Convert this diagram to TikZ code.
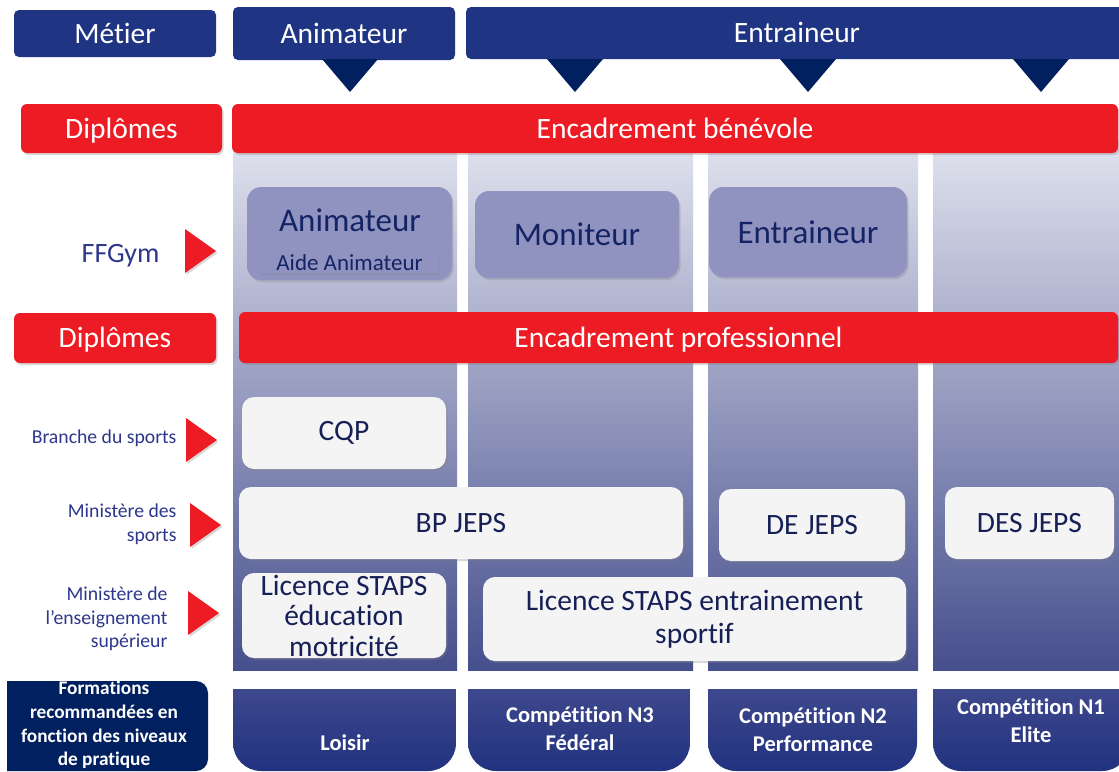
\documentclass[tikz,border=0pt]{standalone}
\usepackage{fontspec}
\setmainfont{Carlito}[Ligatures=NoCommon]
\usetikzlibrary{shadows,calc}

\definecolor{metblue}{RGB}{31,53,131}
\definecolor{tipnavy}{RGB}{0,32,96}
\definecolor{dipred}{RGB}{237,28,36}
\definecolor{ffpurple}{RGB}{144,147,192}
\definecolor{fftext}{RGB}{20,35,100}
\definecolor{boxwhite}{RGB}{244,244,245}
\definecolor{boxtext}{RGB}{22,32,86}
\definecolor{labblue}{RGB}{45,55,140}
\definecolor{coltop}{RGB}{225,227,238}
\definecolor{colmid}{RGB}{180,183,206}
\definecolor{colbot}{RGB}{70,79,141}
\definecolor{tabtop}{RGB}{79,85,147}
\definecolor{tabbot}{RGB}{33,50,128}

\tikzset{
  softshadow/.style={drop shadow={opacity=0.3,shadow xshift=1.5pt,shadow yshift=-2pt}},
  headbox/.style={fill=metblue,text=white,rounded corners=5,inner sep=0,outer sep=0,
    text height=24pt,text depth=5pt,font=\fontsize{29.5}{32}\selectfont},
  redbar/.style={fill=dipred,text=white,rounded corners=6,inner sep=0,outer sep=0,softshadow,
    text height=24pt,text depth=5pt,font=\fontsize{29.5}{32}\selectfont},
  ffbox/.style={fill=ffpurple,rounded corners=14,inner sep=0,outer sep=0,softshadow,
    text=fftext,font=\fontsize{33}{36}\selectfont},
  diplbox/.style={fill=boxwhite,text=boxtext,rounded corners=12,inner sep=0,outer sep=0,
    softshadow,align=center,font=\fontsize{29.5}{30.5}\selectfont},
  sidelabel/.style={text=labblue,align=right,anchor=east,font=\fontsize{19.7}{23.5}\selectfont},
  tablabel/.style={text=white,align=center,font=\bfseries\fontsize{22.5}{28}\selectfont},
}

\begin{document}
\begin{tikzpicture}[x=1pt,y=-1pt]
    \clip (0,0) rectangle (1119,771);
    \fill[white] (0,0) rectangle (1119,771);

    \foreach \cl/\cr in {233/457,468/693,708/918,933/1130}
      \shade[top color=coltop,middle color=colmid,bottom color=colbot] (\cl,140) rectangle (\cr,670);

    \node[headbox,minimum width=202,minimum height=47] (metier) at (115,33.5) {Métier};
    \node[headbox,minimum width=222,minimum height=53] (animtop) at (344,33.5) {Animateur};
    \node[headbox,minimum width=662,minimum height=52] (entrtop) at (797,33) {Entraineur};
    \foreach \tx in {350,575,808,1041}
      \fill[tipnavy] (\tx-28,59) -- (\tx+28,59) -- (\tx,92) -- cycle;

    \node[redbar,minimum width=201,minimum height=49] (dipla) at (121.5,128.5) {Diplômes};
    \node[redbar,minimum width=886,minimum height=49] (benevole) at (675,128.5) {Encadrement bénévole};
    \node[redbar,minimum width=202,minimum height=50] (diplb) at (115,338) {Diplômes};
    \node[redbar,minimum width=879,minimum height=51] (pro) at (678.5,337.5) {Encadrement professionnel};

    \node[ffbox,minimum width=205,minimum height=93] (animff) at (349.5,233.5) {};
    \node[text=fftext,font=\fontsize{33}{36}\selectfont] (animlab) at (350,220) {Animateur};
    \node[fill=ffpurple,text=fftext,rounded corners=3,inner sep=0,minimum width=179,minimum height=21,
      drop shadow={opacity=0.35,shadow xshift=0.5pt,shadow yshift=-1.5pt},
      font=\fontsize{23}{24}\selectfont] (aide) at (349.5,263) {Aide Animateur};
    \node[ffbox,minimum width=204,minimum height=87] (moniteur) at (577,234.5) {Moniteur};
    \node[ffbox,minimum width=198,minimum height=90] (entrff) at (808,232) {Entraineur};

    \foreach \px/\py in {216/251,217/440,221/525,219/613}
      \fill[dipred,softshadow] (\px-31,\py-22) -- (\px,\py) -- (\px-31,\py+22) -- cycle;
    \node[sidelabel,font=\fontsize{28}{30}\selectfont] (ffgym) at (163,256) {FFGym};
    \node[sidelabel] (branche) at (180,438) {Branche du sports};
    \node[sidelabel] (minsport) at (180,524) {Ministère des\\sports};
    \node[sidelabel] (minens) at (171,619) {Ministère de\\l’enseignement\\supérieur};

    \node[diplbox,minimum width=204,minimum height=72] (cqp) at (344,433) {CQP};
    \node[diplbox,minimum width=444,minimum height=72] (bpjeps) at (461,523) {BP JEPS};
    \node[diplbox,minimum width=186,minimum height=72] (dejeps) at (812,525) {DE JEPS};
    \node[diplbox,minimum width=169,minimum height=72] (desjeps) at (1029.5,523) {DES JEPS};
    \node[diplbox,minimum width=204,minimum height=85] (licedu) at (344,615.5) {Licence STAPS\\éducation\\motricité};
    \node[diplbox,minimum width=423,minimum height=84,font=\fontsize{29.5}{33}\selectfont] (licent) at (694.5,619)
      {Licence STAPS entrainement\\sportif};

    \begin{scope}
      \clip (7,681) rectangle (208,771);
      \fill[tipnavy,rounded corners=12] (-30,681) rectangle (208,771);
    \end{scope}
    \node[tablabel,font=\bfseries\fontsize{19.3}{23.8}\selectfont] (formations) at (104,725)
      {Formations\\recommandées en\\fonction des niveaux\\de pratique};

    \foreach \cl/\cr in {233/456,468/690,708/917,933/1130} {
      \begin{scope}
        \clip (\cl,689) rectangle (\cr,771);
        \shade[top color=tabtop,bottom color=tabbot,rounded corners=28] (\cl,640) rectangle (\cr,771);
      \end{scope}
    }
    \node[tablabel] (loisir) at (345,743) {Loisir};
    \node[tablabel] (nthree) at (580,729) {Compétition N3\\Fédéral};
    \node[tablabel] (ntwo) at (813,730) {Compétition N2\\Performance};
    \node[tablabel] (none) at (1031,721) {Compétition N1\\Elite};
\end{tikzpicture}
\end{document}
